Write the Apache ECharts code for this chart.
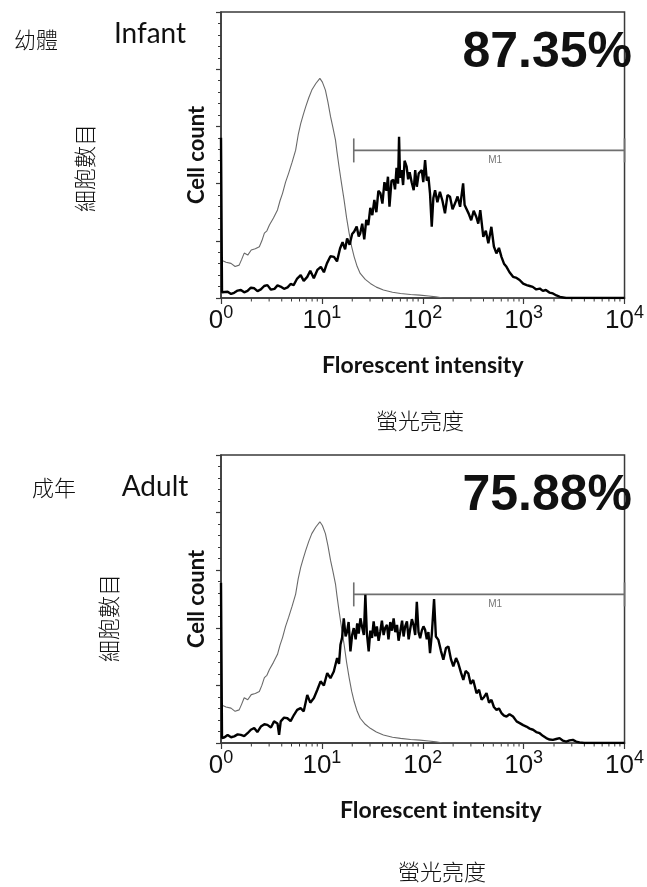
<!DOCTYPE html>
<html>
<head>
<meta charset="utf-8">
<script src="https://cdn.jsdelivr.net/npm/echarts@6/dist/echarts.min.js"></script>
<style>
  html, body { margin: 0; padding: 0; background: #fff; }
  #main { width: 647px; height: 887px; }
</style>
</head>
<body>
<div id="main"></div>
<script>
// 螢光亮度 (log10 of intensity) , 細胞數目 (relative count)
// 未染色對照 (thin grey curve, same in both panels)
var controlCurve = [
  [0.000, 13.3], [0.016, 13.3], [0.050, 12.5], [0.099, 12.1], [0.140, 11.0], [0.180, 11.5],
  [0.205, 13.5], [0.230, 15.7], [0.265, 15.0], [0.300, 16.8], [0.340, 17.2], [0.380, 17.9],
  [0.405, 20.0], [0.430, 22.7], [0.455, 23.5], [0.480, 25.5], [0.520, 28.0], [0.560, 30.8],
  [0.585, 34.0], [0.610, 36.6], [0.640, 40.5], [0.670, 43.6], [0.705, 47.5], [0.740, 51.7],
  [0.765, 57.0], [0.790, 61.0], [0.815, 64.0], [0.840, 66.9], [0.870, 70.0], [0.900, 72.7],
  [0.940, 75.0], [0.980, 76.8], [1.005, 75.5], [1.035, 72.7], [1.060, 68.5], [1.086, 63.4],
  [1.110, 59.5], [1.135, 55.2], [1.150, 51.0], [1.170, 45.9], [1.195, 40.0], [1.220, 34.3],
  [1.245, 28.0], [1.270, 22.7], [1.295, 18.0], [1.320, 14.4], [1.350, 11.0], [1.380, 8.6],
  [1.430, 6.5], [1.480, 5.1], [1.540, 3.8], [1.610, 2.8], [1.700, 2.0], [1.780, 1.6],
  [1.880, 1.2], [1.970, 1.0], [2.060, 0.7], [2.130, 0.4], [2.200, 0.0], [4.000, 0.0]
];

// 幼體 Infant (thick black curve)
var infantCurve = [
  [0.000, 56.0], [0.010, 2.0], [0.066, 2.2], [0.100, 1.4], [0.130, 1.8], [0.165, 2.6],
  [0.197, 2.8], [0.230, 2.0], [0.263, 2.5], [0.296, 3.6], [0.330, 3.4], [0.362, 2.4],
  [0.395, 3.0], [0.428, 4.2], [0.460, 4.5], [0.495, 2.9], [0.530, 3.2], [0.560, 4.4],
  [0.590, 4.0], [0.625, 3.2], [0.660, 3.7], [0.690, 4.9], [0.720, 4.5], [0.755, 6.8],
  [0.790, 8.0], [0.820, 6.0], [0.855, 7.4], [0.885, 9.5], [0.920, 6.9], [0.955, 9.8],
  [0.990, 10.9], [1.020, 9.0], [1.050, 12.1], [1.085, 14.6], [1.120, 14.4], [1.150, 12.8],
  [1.180, 17.3], [1.205, 19.5], [1.230, 17.0], [1.250, 20.8], [1.275, 18.6], [1.300, 22.4],
  [1.320, 23.2], [1.345, 25.0], [1.365, 21.5], [1.380, 22.6], [1.400, 26.0], [1.420, 20.5],
  [1.440, 27.3], [1.460, 25.5], [1.480, 31.5], [1.500, 29.0], [1.520, 34.3], [1.540, 30.0],
  [1.560, 37.5], [1.580, 36.6], [1.600, 33.0], [1.620, 40.5], [1.640, 37.5], [1.655, 42.4],
  [1.670, 31.9], [1.690, 41.0], [1.710, 41.3], [1.725, 38.0], [1.740, 45.5], [1.755, 40.0],
  [1.765, 56.4], [1.775, 42.0], [1.790, 44.7], [1.805, 39.5], [1.820, 48.0], [1.840, 45.9],
  [1.855, 41.5], [1.870, 44.0], [1.890, 40.5], [1.910, 37.7], [1.925, 44.7], [1.941, 38.9],
  [1.960, 43.6], [1.990, 44.7], [2.005, 40.5], [2.023, 48.2], [2.040, 41.0], [2.056, 42.4],
  [2.072, 36.5], [2.089, 24.9], [2.105, 35.0], [2.122, 37.7], [2.145, 33.5], [2.170, 37.1],
  [2.195, 34.0], [2.220, 29.6], [2.245, 36.0], [2.270, 35.4], [2.295, 31.0], [2.320, 33.1],
  [2.345, 35.5], [2.370, 31.9], [2.400, 40.1], [2.415, 32.5], [2.430, 31.9], [2.455, 29.5],
  [2.480, 27.2], [2.505, 30.5], [2.530, 28.4], [2.550, 26.0], [2.570, 30.7], [2.600, 21.4],
  [2.625, 23.5], [2.650, 19.1], [2.680, 24.9], [2.705, 18.0], [2.730, 15.6], [2.755, 17.5],
  [2.780, 14.4], [2.805, 12.0], [2.830, 10.9], [2.860, 9.0], [2.895, 7.4], [2.930, 7.0],
  [2.960, 6.3], [2.995, 5.0], [3.030, 4.5], [3.060, 4.2], [3.090, 3.9], [3.125, 3.0],
  [3.160, 3.3], [3.190, 2.5], [3.220, 2.8], [3.255, 1.9], [3.290, 1.6], [3.325, 0.9],
  [3.360, 0.4], [3.420, 0.0], [4.000, 0.0]
];

// 成年 Adult (thick black curve)
var adultCurve = [
  [0.000, 55.6], [0.010, 1.7], [0.035, 2.0], [0.066, 2.8], [0.100, 2.0], [0.131, 2.3],
  [0.165, 3.0], [0.197, 2.8], [0.230, 2.4], [0.263, 3.4], [0.296, 4.6], [0.329, 5.2],
  [0.360, 3.8], [0.395, 5.7], [0.430, 6.5], [0.460, 6.3], [0.495, 5.4], [0.526, 7.5],
  [0.560, 6.8], [0.576, 2.8], [0.592, 7.5], [0.625, 8.8], [0.658, 8.6], [0.690, 7.6],
  [0.724, 9.8], [0.755, 11.5], [0.789, 12.1], [0.820, 11.0], [0.855, 16.7], [0.885, 14.0],
  [0.921, 15.6], [0.955, 18.5], [0.987, 21.4], [1.020, 20.0], [1.053, 24.3], [1.085, 22.5],
  [1.118, 24.8], [1.151, 29.5], [1.170, 27.5], [1.184, 34.1], [1.200, 36.5], [1.217, 43.3],
  [1.235, 37.0], [1.250, 38.7], [1.265, 42.0], [1.283, 31.8], [1.300, 37.5], [1.316, 39.9],
  [1.335, 36.0], [1.350, 41.5], [1.365, 38.0], [1.382, 43.3], [1.400, 40.0], [1.416, 37.5],
  [1.431, 51.5], [1.445, 38.5], [1.464, 31.8], [1.480, 39.0], [1.497, 36.5], [1.513, 42.2],
  [1.530, 37.0], [1.545, 40.5], [1.562, 35.5], [1.579, 38.7], [1.595, 42.5], [1.612, 37.5],
  [1.628, 40.0], [1.645, 41.0], [1.660, 36.0], [1.678, 42.0], [1.695, 39.0], [1.711, 43.3],
  [1.728, 38.5], [1.745, 41.0], [1.760, 35.5], [1.777, 38.7], [1.795, 42.5], [1.810, 37.0],
  [1.826, 40.5], [1.843, 42.2], [1.860, 36.0], [1.875, 39.5], [1.892, 43.0], [1.908, 41.0],
  [1.925, 37.5], [1.941, 49.0], [1.958, 38.5], [1.974, 36.4], [1.990, 39.0], [2.007, 40.5],
  [2.023, 39.3], [2.040, 36.0], [2.056, 38.5], [2.072, 31.2], [2.090, 38.0], [2.112, 50.0],
  [2.130, 37.0], [2.155, 35.8], [2.180, 32.0], [2.204, 28.9], [2.230, 33.0], [2.254, 33.5],
  [2.280, 29.0], [2.303, 26.6], [2.330, 29.5], [2.352, 27.7], [2.378, 24.5], [2.402, 21.9],
  [2.425, 25.0], [2.451, 24.2], [2.475, 20.5], [2.500, 21.9], [2.533, 17.3], [2.558, 18.5],
  [2.583, 15.0], [2.608, 16.0], [2.632, 17.3], [2.657, 14.0], [2.681, 15.0], [2.705, 12.5],
  [2.731, 11.5], [2.755, 12.0], [2.780, 10.4], [2.805, 9.5], [2.830, 9.2], [2.860, 10.0],
  [2.895, 9.2], [2.930, 7.5], [2.961, 6.9], [2.995, 6.2], [3.027, 5.7], [3.060, 5.0],
  [3.093, 4.6], [3.125, 3.8], [3.159, 3.4], [3.190, 2.5], [3.224, 1.7], [3.257, 1.2],
  [3.290, 1.1], [3.323, 1.4], [3.356, 1.7], [3.390, 0.8], [3.422, 0.5], [3.455, 0.9],
  [3.488, 1.1], [3.520, 0.5], [3.554, 0.2], [3.600, 0.0], [4.000, 0.0]
];

// M1 gate: [from intensity, level, to intensity]
var gateM1 = [[20.7, 51.6, 10000]];
var percentLabels = ["87.35%", "75.88%"];
var xTickValues = [1, 10, 100, 1000, 10000];

var myChart = echarts.init(document.getElementById("main"));

var toLog = function (arr) {
  return arr.map(function (p) { return [Math.pow(10, p[0]), p[1]]; });
};

// 對數軸的次刻度 2..9
var minorTicks = [];
xTickValues.slice(0, 4).forEach(function (d) {
  for (var k = 2; k <= 9; k++) minorTicks.push(d * k);
});

var tickFont = "Liberation Sans";
var latin = "Lato";
var cjk = "Noto Sans CJK TC";
var axisColor = "#3a3a3a";

function xAxisCfg(gridIndex, padLeft) {
  return {
    type: "log",
    gridIndex: gridIndex,
    logBase: 10,
    min: 1,
    max: 10000,
    splitNumber: 4,
    name: "Florescent intensity",
    nameLocation: "middle",
    nameGap: 56,
    nameTextStyle: {
      fontFamily: latin, fontWeight: "bold", fontSize: 23, color: "#111",
      padding: [0, 0, 0, padLeft]
    },
    axisLine: { show: true, lineStyle: { color: axisColor, width: 1.5 } },
    axisTick: { show: true, inside: false, length: 6, lineStyle: { color: axisColor, width: 1.2 } },
    splitLine: { show: false },
    axisLabel: {
      margin: 6,
      showMinLabel: true,
      showMaxLabel: true,
      formatter: function (v) {
        var e = Math.round(Math.log10(v));
        return (e === 0 ? "{b|0}" : "{b|10}") + "{s|" + e + "}";
      },
      rich: {
        b: { fontFamily: tickFont, fontSize: 26, color: "#111", lineHeight: 30, verticalAlign: "bottom" },
        s: { fontFamily: tickFont, fontSize: 18, color: "#111", lineHeight: 30, verticalAlign: "top" }
      }
    }
  };
}

function yAxisCfg(gridIndex) {
  return {
    type: "value",
    gridIndex: gridIndex,
    min: 0,
    max: 100,
    interval: 20,
    name: "Cell count",
    nameLocation: "middle",
    nameRotate: 90,
    nameGap: 13,
    nameTextStyle: { fontFamily: latin, fontWeight: "bold", fontSize: 22, color: "#111" },
    axisLine: { show: true, lineStyle: { color: axisColor, width: 1.5 } },
    axisTick: { show: true, inside: false, length: 5, lineStyle: { color: axisColor, width: 1.2 } },
    minorTick: { show: true, splitNumber: 5, length: 3, lineStyle: { color: axisColor, width: 1 } },
    axisLabel: { show: false },
    splitLine: { show: false }
  };
}

function gateSeries(idx) {
  return {
    type: "custom",
    xAxisIndex: idx,
    yAxisIndex: idx,
    clip: false,
    silent: true,
    z: 3,
    encode: { x: [0, 2], y: 1 },
    data: gateM1,
    renderItem: function (params, api) {
      var p1 = api.coord([api.value(0), api.value(1)]);
      var p2 = api.coord([api.value(2), api.value(1)]);
      var mid = api.coord([Math.sqrt(api.value(0) * api.value(2)), api.value(1)]);
      var ls = { stroke: "#6f6f6f", lineWidth: 1.6 };
      return {
        type: "group",
        children: [
          { type: "line", shape: { x1: p1[0], y1: p1[1], x2: p2[0], y2: p2[1] }, style: ls },
          { type: "line", shape: { x1: p1[0], y1: p1[1] - 12, x2: p1[0], y2: p1[1] + 12 }, style: ls },
          { type: "line", shape: { x1: p2[0], y1: p2[1] - 12, x2: p2[0], y2: p2[1] + 12 }, style: ls },
          {
            type: "text",
            style: {
              x: mid[0] + 6, y: mid[1] + 10, text: "M1", fill: "#777",
              font: "10px " + tickFont, align: "center", verticalAlign: "middle"
            }
          }
        ]
      };
    }
  };
}

function minorTickSeries(idx) {
  return {
    type: "custom",
    xAxisIndex: idx,
    yAxisIndex: idx,
    clip: false,
    silent: true,
    data: minorTicks.map(function (v) { return [v, 0]; }),
    renderItem: function (params, api) {
      var p = api.coord([api.value(0), 0]);
      return {
        type: "line",
        shape: { x1: p[0], y1: p[1], x2: p[0], y2: p[1] + 3.5 },
        style: { stroke: axisColor, lineWidth: 1 }
      };
    }
  };
}

function curve(idx, data, color, width, z) {
  return {
    type: "line",
    xAxisIndex: idx,
    yAxisIndex: idx,
    data: toLog(data),
    showSymbol: false,
    symbol: "none",
    smooth: false,
    z: z,
    lineStyle: { color: color, width: width },
    animation: false
  };
}

function txt(x, y, text, font, align, rotation) {
  return {
    type: "text",
    x: x,
    y: y,
    rotation: rotation || 0,
    style: { x: 0, y: 0, text: text, font: font, fill: "#111", align: align || "center", verticalAlign: "middle" }
  };
}

var option = {
  backgroundColor: "#fff",
  animation: false,
  grid: [
    { left: 221, top: 12, width: 406, height: 286, show: true, borderColor: axisColor, borderWidth: 1.5 },
    { left: 221, top: 455, width: 406, height: 288, show: true, borderColor: axisColor, borderWidth: 1.5 }
  ],
  xAxis: [xAxisCfg(0, 0), xAxisCfg(1, 36)],
  yAxis: [yAxisCfg(0), yAxisCfg(1)],
  graphic: [
    txt(36, 40, "幼體", "300 22px '" + cjk + "'"),
    txt(150, 34, "Infant", "28px " + latin),
    txt(85, 168, "細胞數目", "300 22px '" + cjk + "'", "center", Math.PI / 2),
    txt(632, 53, percentLabels[0], "bold 50px '" + tickFont + "'", "right"),
    txt(420, 421, "螢光亮度", "300 22px '" + cjk + "'"),

    txt(54, 488, "成年", "300 22px '" + cjk + "'"),
    txt(155, 487, "Adult", "28px " + latin),
    txt(109, 618, "細胞數目", "300 22px '" + cjk + "'", "center", Math.PI / 2),
    txt(632, 496, percentLabels[1], "bold 50px '" + tickFont + "'", "right"),
    txt(442, 872, "螢光亮度", "300 22px '" + cjk + "'")
  ],
  series: [
    curve(0, controlCurve, "#6a6a6a", 1.1, 2),
    curve(0, infantCurve, "#000", 2.4, 4),
    gateSeries(0),
    minorTickSeries(0),
    curve(1, controlCurve, "#6a6a6a", 1.1, 2),
    curve(1, adultCurve, "#000", 2.4, 4),
    gateSeries(1),
    minorTickSeries(1)
  ]
};

myChart.setOption(option);
</script>
</body>
</html>
